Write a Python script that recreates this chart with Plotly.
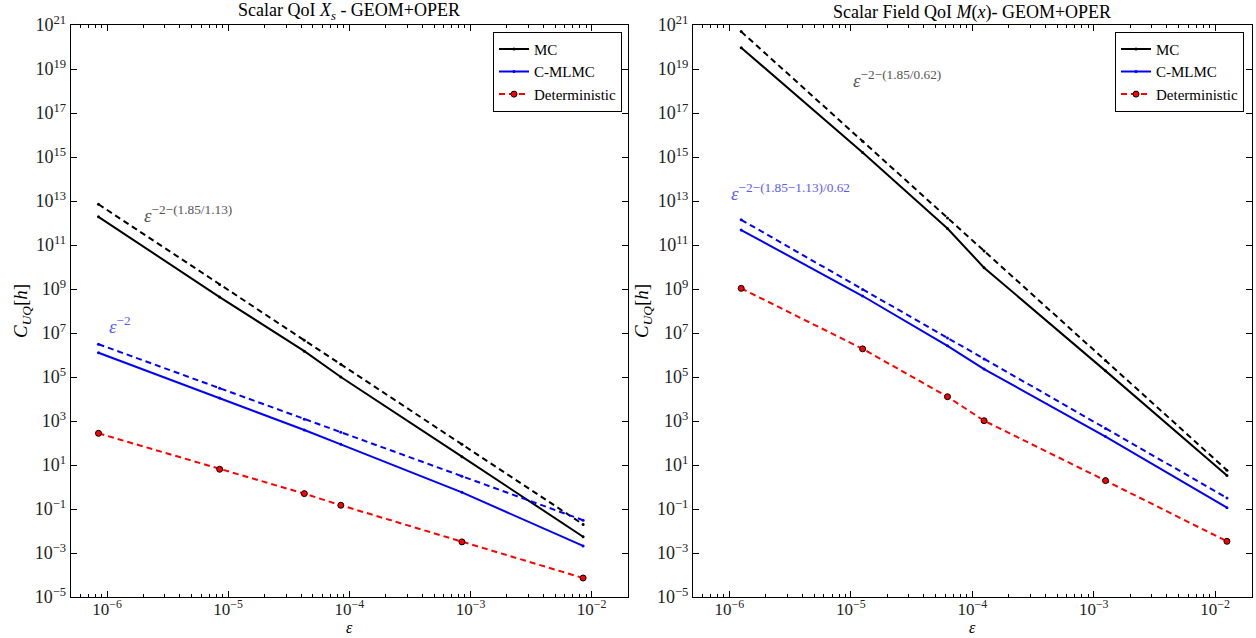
import plotly.graph_objects as go

# ---- Scalar QoI X_s (left panel) ----
eps_s = [8.5e-7, 8.5e-6, 4.25e-5, 8.5e-5, 8.5e-4, 8.5e-3]
mc_s = [1.9e12, 4.3e8, 1.5e6, 1.0e5, 24, 5.5e-3]
mc_rate_s = [7.1e12, 1.6e9, 4.7e6, 3.8e5, 88, 0.02]
mlmc_s = [1.27e6, 1.1e4, 3.9e2, 87, 0.57, 2.1e-3]
mlmc_rate_s = [3.1e6, 3.1e4, 1.2e3, 310, 3.1, 0.031]
det_s = [275, 6.4, 0.50, 0.148, 3.2e-3, 7.3e-5]

# ---- Scalar field QoI M(x) (right panel) ----
eps_f = [1.25e-6, 1.25e-5, 6.25e-5, 1.25e-4, 1.25e-3, 1.25e-2]
mc_f = [9.3e19, 1.6e15, 5.6e11, 9.3e9, 1.9e5, 3.3]
mc_rate_f = [5.0e20, 5.2e15, 1.7e12, 5.4e10, 5.6e5, 5.8]
mlmc_f = [4.8e11, 4.8e8, 2.6e6, 2.3e5, 195, 0.115]
mlmc_rate_f = [1.4e12, 9.5e8, 5.9e6, 6.6e5, 457, 0.32]
det_f = [1.07e9, 1.9e6, 1.27e4, 1.03e3, 1.95, 3.4e-3]

# ---- axis ticks ----
x_exponents = [-6, -5, -4, -3, -2]
y_exponents = list(range(-5, 22, 2))

SERIF = "Liberation Serif"
BLACK = "#000000"
BLUE = "#0000ff"
RED = "#ff0000"


def pow10_label(e):
    s = str(e).replace("-", "\u2212")
    return f"10<sup>{s}</sup>"


x_tickvals = [10.0 ** e for e in x_exponents]
x_ticktext = [pow10_label(e) for e in x_exponents]
x_minor = [k * 10.0 ** e for e in range(-7, -1) for k in range(2, 10)]
y_tickvals = [10.0 ** e for e in y_exponents]
y_ticktext = [pow10_label(e) for e in y_exponents]

fig = go.Figure()


def add_panel(eps, mc, mc_rate, mlmc, mlmc_rate, det, xa, ya, legend):
    fig.add_trace(go.Scatter(
        x=eps, y=mc, mode="lines+markers", name="MC",
        line=dict(color=BLACK, width=2), marker=dict(size=3, color=BLACK),
        xaxis=xa, yaxis=ya, legend=legend))
    fig.add_trace(go.Scatter(
        x=eps, y=mlmc, mode="lines+markers", name="C-MLMC",
        line=dict(color=BLUE, width=2), marker=dict(size=3, color=BLUE),
        xaxis=xa, yaxis=ya, legend=legend))
    fig.add_trace(go.Scatter(
        x=eps, y=det, mode="lines+markers", name="Deterministic",
        line=dict(color=RED, width=2, dash="6px,4px"),
        marker=dict(size=6, color=RED, line=dict(color=BLACK, width=1)),
        xaxis=xa, yaxis=ya, legend=legend))
    fig.add_trace(go.Scatter(
        x=eps, y=mc_rate, mode="lines+markers", showlegend=False,
        line=dict(color=BLACK, width=2, dash="6px,4px"),
        marker=dict(size=3, color=BLACK), xaxis=xa, yaxis=ya))
    fig.add_trace(go.Scatter(
        x=eps, y=mlmc_rate, mode="lines+markers", showlegend=False,
        line=dict(color=BLUE, width=2, dash="6px,4px"),
        marker=dict(size=3, color=BLUE), xaxis=xa, yaxis=ya))


add_panel(eps_s, mc_s, mc_rate_s, mlmc_s, mlmc_rate_s, det_s, "x", "y", "legend")
add_panel(eps_f, mc_f, mc_rate_f, mlmc_f, mlmc_rate_f, det_f, "x2", "y2", "legend2")

tick_font = dict(family=SERIF, size=18, color="#222222")
xaxis_common = dict(
    type="log", range=[-6.3, -1.7], tickmode="array",
    tickvals=x_tickvals, ticktext=x_ticktext, ticks="inside", ticklen=6,
    tickcolor=BLACK, showline=True, linecolor=BLACK, linewidth=1,
    mirror="ticks", showgrid=False, zeroline=False,
    tickfont=dict(family=SERIF, size=17, color="#222222"),
    ticklabelstandoff=-3,
    minor=dict(tickmode="array", tickvals=x_minor, ticks="inside",
               ticklen=3, tickcolor=BLACK, showgrid=False),
)
yaxis_common = dict(
    type="log", range=[-5, 21], tickmode="array",
    tickvals=y_tickvals, ticktext=y_ticktext, ticks="inside", ticklen=6,
    tickcolor=BLACK, showline=True, linecolor=BLACK, linewidth=1,
    mirror="ticks", showgrid=False, zeroline=False, tickfont=tick_font,
)

W, H = 1256, 638
left_dom = [70.7 / W, 628 / W]
right_dom = [693 / W, 1251.6 / W]

legend_common = dict(
    bgcolor="white", bordercolor=BLACK, borderwidth=1,
    font=dict(family=SERIF, size=15, color=BLACK),
    xanchor="right", yanchor="top", yref="paper", xref="paper",
    itemwidth=30, tracegroupgap=0,
)

fig.update_layout(
    width=W, height=H,
    margin=dict(l=0, r=0, t=25, b=41),
    paper_bgcolor="white", plot_bgcolor="white",
    xaxis=dict(domain=left_dom, anchor="y", **xaxis_common),
    yaxis=dict(domain=[0, 1], anchor="x", **yaxis_common),
    xaxis2=dict(domain=right_dom, anchor="y2", **xaxis_common),
    yaxis2=dict(domain=[0, 1], anchor="x2", **yaxis_common),
    legend=dict(x=622 / W, y=0.988, **legend_common),
    legend2=dict(x=1244 / W, y=0.988, **legend_common),
)

ann_font = dict(family=SERIF, size=19, color=BLACK)
mid_l = (left_dom[0] + left_dom[1]) / 2
mid_r = (right_dom[0] + right_dom[1]) / 2
title_font = dict(family=SERIF, size=18, color=BLACK)
eps_font = dict(family=SERIF, size=16, color=BLACK)
eps_y = (597 - 638) / 572  # paper coordinate of the figure's bottom edge

annotations = [
    # panel titles
    dict(text="Scalar QoI <i>X<sub>s</sub></i> - GEOM+OPER", x=mid_l, y=1.0,
         xref="paper", yref="paper", xanchor="center", yanchor="bottom",
         yshift=0, showarrow=False, font=title_font),
    dict(text="Scalar Field QoI <i>M</i>(<i>x</i>)- GEOM+OPER", x=mid_r, y=1.0,
         xref="paper", yref="paper", xanchor="center", yanchor="bottom",
         yshift=0, showarrow=False, font=title_font),
    # axis titles
    dict(text="<i>C</i><sub><i>UQ</i></sub>[<i>h</i>]", x=22 / W, y=0.5,
         xref="paper", yref="paper", xanchor="center", yanchor="middle",
         textangle=-90, showarrow=False, font=ann_font),
    dict(text="<i>C</i><sub><i>UQ</i></sub>[<i>h</i>]", x=643 / W, y=0.5,
         xref="paper", yref="paper", xanchor="center", yanchor="middle",
         textangle=-90, showarrow=False, font=ann_font),
    dict(text="<i>ε</i>", x=mid_l, y=eps_y, xref="paper", yref="paper",
         xanchor="center", yanchor="bottom", showarrow=False, font=eps_font),
    dict(text="<i>ε</i>", x=mid_r, y=eps_y, xref="paper", yref="paper",
         xanchor="center", yanchor="bottom", showarrow=False, font=eps_font),
    # rate labels
    dict(text="<i>ε</i><sup>−2−(1.85/1.13)</sup>", x=-5.71, y=12.4,
         xref="x", yref="y", xanchor="left", yanchor="middle", showarrow=False,
         font=dict(family=SERIF, size=19, color="#555555")),
    dict(text="<i>ε</i><sup>−2</sup>", x=-6.0, y=7.35,
         xref="x", yref="y", xanchor="left", yanchor="middle", showarrow=False,
         font=dict(family=SERIF, size=19, color="#5a5aff")),
    dict(text="<i>ε</i><sup>−2−(1.85/0.62)</sup>", x=-5.0, y=18.55,
         xref="x2", yref="y2", xanchor="left", yanchor="middle", showarrow=False,
         font=dict(family=SERIF, size=19, color="#555555")),
    dict(text="<i>ε</i><sup>−2−(1.85−1.13)/0.62</sup>", x=-6.0, y=13.4,
         xref="x2", yref="y2", xanchor="left", yanchor="middle", showarrow=False,
         font=dict(family=SERIF, size=19, color="#5a5aff")),
]
fig.update_layout(annotations=annotations)

fig.write_html("out.html")
